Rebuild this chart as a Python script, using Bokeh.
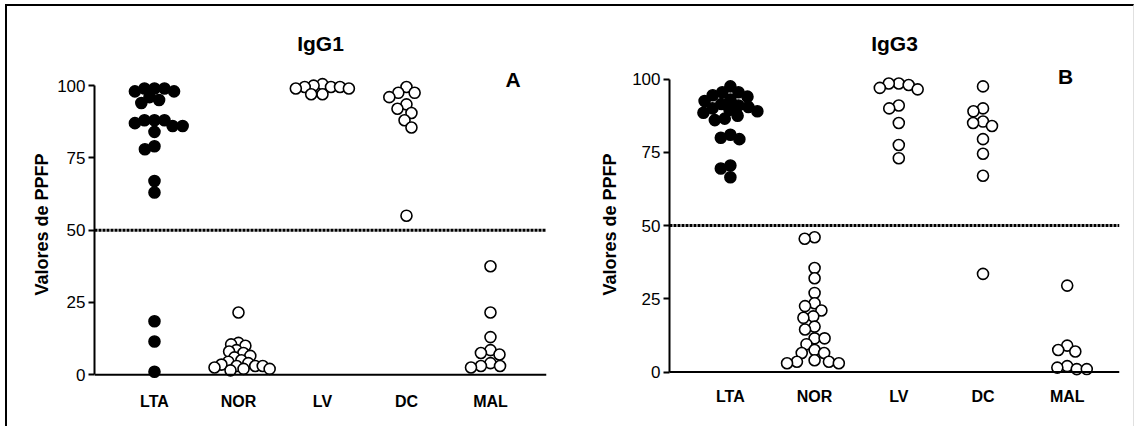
import numpy as np
from bokeh.plotting import figure
from bokeh.models import FixedTicker, Span, Label, ColumnDataSource, Range1d
from bokeh.layouts import row
from bokeh.embed import file_html
from bokeh.resources import INLINE

categories = ["LTA", "NOR", "LV", "DC", "MAL"]
filled_groups = ["LTA"]

igg1_lta = [99, 99, 99, 98, 98, 96, 95, 94, 88, 88, 88, 87, 86, 86, 84, 79, 78, 67, 63, 18.5, 11.5, 1]
igg1_nor = [21.5, 11, 10.5, 10, 8.5, 8, 7.5, 6.5, 6, 5, 4.5, 4, 3.5, 3, 3, 3, 2.5, 2, 2, 1.5]
igg1_lv = [100.5, 100, 99.5, 99.5, 99.5, 99, 99, 97, 97]
igg1_dc = [99.5, 97.5, 97.5, 96, 93.5, 92, 90.5, 88, 85.5, 55]
igg1_mal = [37.5, 21.5, 13, 8.5, 7.5, 7, 4, 3, 3, 2.5]

igg3_lta = [97.5, 95.5, 95.5, 94.5, 94, 93, 92.5, 91.5, 91, 90.5, 90, 89.5, 89, 88.5,
            87.5, 86.5, 86, 81, 80, 79.5, 70.5, 69.5, 66.5]
igg3_nor = [46, 45.5, 35.5, 32, 27, 23.5, 22.5, 21, 19, 18.5, 15.5, 14.5, 11.5, 11.5,
            9.5, 7.5, 6.5, 6.5, 4, 3.5, 3.5, 3, 3]
igg3_lv = [98.5, 98.5, 98, 97, 96.5, 91, 90, 85, 77.5, 73]
igg3_dc = [97.5, 90, 89, 85.5, 85, 84, 79.5, 74.5, 67, 33.5]
igg3_mal = [29.5, 9, 7.5, 7, 2, 1.5, 1, 1]

y_ticks = [0, 25, 50, 75, 100]
threshold = 50
y_axis_title = "Valores de PPFP"

FONT = "Liberation Sans"


def swarm_once(values, px_y, D):
    order = sorted(range(len(values)), key=lambda i: -values[i])
    placed = []
    offs = [0.0] * len(values)
    for i in order:
        y = values[i] * px_y
        near = [(xp, yp) for xp, yp in placed if abs(yp - y) < D]
        cands = [0.0]
        for xp, yp in near:
            dx = np.sqrt(max(D * D - (yp - y) ** 2, 0))
            cands += [xp + dx, xp - dx]
        cands.sort(key=lambda c: (round(abs(c), 3), c))
        chosen = 0.0
        for c in cands:
            if all((c - xp) ** 2 + (yp - y) ** 2 >= D * D - 1e-6 for xp, yp in near):
                chosen = c
                break
        placed.append((chosen, y))
        offs[i] = chosen
    return offs


def swarm(values, px_y, px_x, D=10.0, max_w=56.0):
    while True:
        offs = swarm_once(values, px_y, D)
        if max(offs) - min(offs) <= max_w or D <= 5:
            break
        D -= 0.5
    return [o / px_x for o in offs]


def make_panel(title, letter, letter_pos, groups, width, height, mb, x_range, y_range,
               label_standoff, axis_label_standoff):
    p = figure(width=width, height=height, x_range=Range1d(*x_range), y_range=Range1d(*y_range),
               output_backend="svg", toolbar_location=None,
               min_border_left=mb[0], min_border_right=mb[1], min_border_top=mb[2],
               min_border_bottom=mb[3], title=title)
    p.title.text_font = FONT
    p.title.text_font_size = "21px"
    p.title.text_font_style = "bold"
    p.title.text_color = "black"
    p.title.align = "center"
    p.title.standoff = 24
    p.grid.visible = False
    p.outline_line_color = None

    frame_w = width - mb[0] - mb[1]
    frame_h = height - mb[2] - mb[3]
    px_x = frame_w / (x_range[1] - x_range[0])
    px_y = frame_h / (y_range[1] - y_range[0])

    p.add_layout(Span(location=threshold, dimension="width", line_color="black",
                      line_width=3, line_dash="3 1"))
    p.add_layout(Span(location=0, dimension="width", line_color="black", line_width=2))

    for i, (cat, vals) in enumerate(zip(categories, groups)):
        offs = swarm(vals, px_y, px_x)
        src = ColumnDataSource(dict(x=[i + o for o in offs], y=vals))
        fill = "black" if cat in filled_groups else "white"
        p.scatter("x", "y", source=src, size=11, fill_color=fill, line_color="black",
                  line_width=1.6)

    xa = p.xaxis[0]
    xa.ticker = FixedTicker(ticks=list(range(len(categories))))
    xa.major_label_overrides = {i: c for i, c in enumerate(categories)}
    xa.axis_line_color = None
    xa.major_tick_out = 0
    xa.major_tick_in = 0
    xa.minor_tick_out = 0
    xa.minor_tick_in = 0
    xa.major_tick_line_color = None
    xa.minor_tick_line_color = None
    xa.major_label_text_font = FONT
    xa.major_label_text_font_style = "bold"
    xa.major_label_text_font_size = "16px"
    xa.major_label_text_color = "black"
    xa.major_label_standoff = label_standoff

    ya = p.yaxis[0]
    ya.ticker = FixedTicker(ticks=y_ticks)
    ya.bounds = (0, 100)
    ya.major_tick_out = 6
    ya.major_tick_in = 0
    ya.minor_tick_out = 0
    ya.minor_tick_in = 0
    ya.minor_tick_line_color = None
    ya.major_tick_line_width = 2
    ya.axis_line_width = 2
    ya.major_label_text_font = FONT
    ya.major_label_text_font_size = "17px"
    ya.major_label_text_color = "black"
    ya.major_label_standoff = 3
    ya.axis_label = y_axis_title
    ya.axis_label_text_font = FONT
    ya.axis_label_text_font_style = "bold"
    ya.axis_label_text_font_size = "18px"
    ya.axis_label_text_color = "black"
    ya.axis_label_standoff = axis_label_standoff

    p.add_layout(Label(x=letter_pos[0], y=letter_pos[1], text=letter, text_font=FONT,
                       text_font_size="21px", text_font_style="bold", text_color="black",
                       text_align="center", text_baseline="middle"))
    return p


p1 = make_panel("IgG1", "A", (4.27, 102.1),
                [igg1_lta, igg1_nor, igg1_lv, igg1_dc, igg1_mal],
                568, 420, (87, 29, 60, 44), (-0.714, 4.667), (-2.70, 106.6), 10, 2)
p2 = make_panel("IgG3", "B", (3.98, 100.9),
                [igg3_lta, igg3_nor, igg3_lv, igg3_dc, igg3_mal],
                558, 420, (94, 14, 60, 44), (-0.723, 4.621), (-3.58, 104.3), 5, 9)

layout = row(p1, p2, margin=(4, 0, 0, 5),
             styles={"border-top": "2px solid black", "border-left": "2px solid black",
                     "border-right": "1px solid #e0e0e0"})

open("out.html", "w").write(file_html(layout, INLINE))
